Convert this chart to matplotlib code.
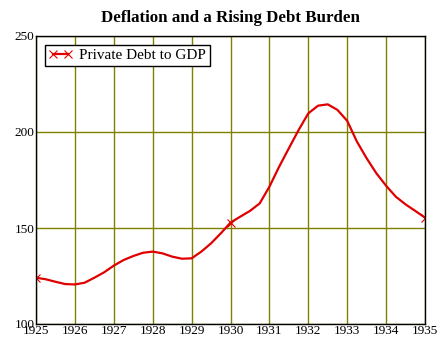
import numpy as np
import matplotlib.pyplot as plt

years = np.arange(1925, 1935.01, 0.25)
debt_to_gdp = [124.1, 123.3, 122.0, 120.8, 120.6, 121.5, 124.1, 126.9,
               130.4, 133.3, 135.4, 137.1, 137.7, 136.8, 135.1, 134.0,
               134.2, 137.7, 142.0, 147.2, 152.8, 155.9, 158.9, 162.8,
               171.5, 181.9, 191.5, 201.0, 209.7, 213.7, 214.4, 211.5,
               205.8, 195.0, 186.3, 178.5, 172.0, 166.3, 162.3, 158.9,
               155.4]
xticks = list(range(1925, 1936))
yticks = [100, 150, 200, 250]

plt.rcParams['font.family'] = ['Liberation Serif', 'DejaVu Serif']

fig = plt.figure(figsize=(4.46, 3.55), dpi=100)
ax = fig.add_axes([36 / 446, 1 - 324 / 355, 389 / 446, 288 / 355])

ax.plot(years, debt_to_gdp, color='#e00000', lw=1.6, marker='x', ms=6,
        mew=0.8, markevery=20, label='Private Debt to GDP')

ax.set_xlim(1925, 1935)
ax.set_ylim(100, 250)
ax.set_xticks(xticks)
ax.set_yticks(yticks)
ax.tick_params(length=0, labelsize=9.5, pad=1)
ax.grid(True, color='#808000', lw=1)
for s in ax.spines.values():
    s.set_color('black')
    s.set_linewidth(1)

fig.suptitle('Deflation and a Rising Debt Burden', fontsize=12.2, fontweight='bold',
             x=230 / 446, y=1 - 18 / 355, va='center')

leg = ax.legend(loc='upper left', bbox_to_anchor=(0.022, 0.97), fontsize=11,
                numpoints=2, fancybox=False, framealpha=1, edgecolor='black',
                borderpad=0.25, handlelength=1.6, handletextpad=0.4,
                borderaxespad=0)
leg.get_frame().set_linewidth(1)

fig.savefig('out.png', dpi=100)
